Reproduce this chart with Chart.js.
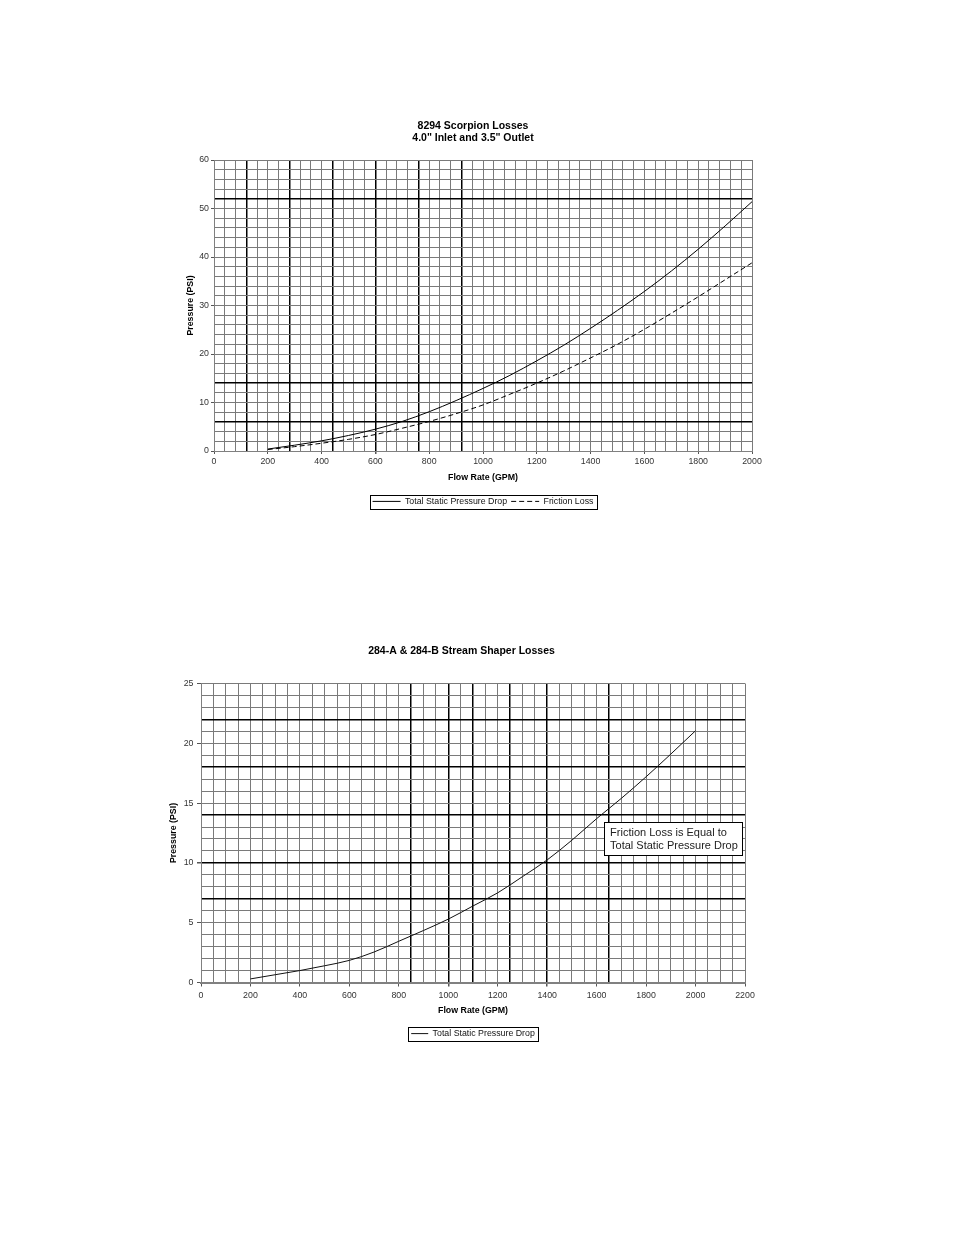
<!DOCTYPE html>
<html>
<head>
<meta charset="utf-8">
<title>Scorpion and Stream Shaper Losses</title>
<script src="https://cdn.jsdelivr.net/npm/chart.js@4.4.1/dist/chart.umd.min.js"></script>
<style>
    html, body { margin: 0; padding: 0; background: #fff; }
    body { width: 954px; height: 1235px; position: relative; overflow: hidden; }
    canvas { position: absolute; }
    #scorpionChart { left: 150px; top: 100px; }
    #shaperChart { left: 140px; top: 620px; }
</style>
</head>
<body>
<canvas id="scorpionChart" width="620" height="420"></canvas>
<canvas id="shaperChart" width="624" height="430"></canvas>
<script>
// 8294 Scorpion
const scorpionFlow = [200, 300, 400, 500, 600, 700, 800, 900, 1000, 1100, 1200, 1300, 1400, 1500, 1600, 1700, 1800, 1900, 2000];
const scorpionTotal = [0.4, 1.2, 2.1, 3.2, 4.5, 6.1, 8.1, 10.4, 12.9, 15.6, 18.6, 21.8, 25.3, 29.0, 32.9, 37.1, 41.6, 46.4, 51.4];
const scorpionFriction = [0.3, 0.9, 1.6, 2.4, 3.4, 4.7, 6.1, 7.7, 9.5, 11.7, 14.0, 16.5, 19.2, 22.0, 25.1, 28.4, 31.8, 35.3, 38.8];
const scorpionXLabels = [0, 200, 400, 600, 800, 1000, 1200, 1400, 1600, 1800, 2000];
const scorpionYLabels = [0, 10, 20, 30, 40, 50, 60];

// 284-A & 284-B Stream Shaper
const shaperFlow = [200, 300, 400, 500, 600, 700, 800, 900, 1000, 1100, 1200, 1300, 1400, 1500, 1600, 1700, 1800, 1900, 2000];
const shaperTotal = [0.3, 0.65, 1.0, 1.4, 1.85, 2.55, 3.45, 4.35, 5.3, 6.4, 7.5, 8.85, 10.25, 11.9, 13.7, 15.4, 17.2, 19.1, 21.05];
const shaperXLabels = [0, 200, 400, 600, 800, 1000, 1200, 1400, 1600, 1800, 2000, 2200];
const shaperYLabels = [0, 5, 10, 15, 20, 25];

// papier quadrillé : lignes fines et lignes épaisses
const scorpionThickX = [120, 280, 440, 600, 760, 920];
const scorpionThickY = [6, 14, 52];
const shaperThickX = [850, 1000, 1100, 1250, 1400, 1650];
const shaperThickY = [7, 10, 14, 18, 22];

const shaperNote = ['Friction Loss is Equal to', 'Total Static Pressure Drop'];

Chart.defaults.font.family = "'Liberation Sans', Arial, sans-serif";
Chart.defaults.color = '#333';

function gridSteps(max, step) {
    const out = [];
    for (let v = 0; v <= max; v += step) out.push(v);
    return out;
}

function points(xs, ys) {
    return xs.map((x, i) => ({ x: x, y: ys[i] }));
}

// cadre autour de la légende
const legendFrame = {
    id: 'legendFrame',
    afterDraw(chart) {
        const boxes = chart.legend && chart.legend.legendHitBoxes;
        if (!boxes || !boxes.length) return;
        const ctx = chart.ctx;
        const left = Math.min(...boxes.map(b => b.left)) - 3;
        const right = Math.max(...boxes.map(b => b.left + b.width)) + 3;
        const top = boxes[0].top - 2.5;
        ctx.save();
        ctx.strokeStyle = '#000';
        ctx.lineWidth = 1;
        ctx.strokeRect(Math.round(left) + 0.5, Math.round(top) + 0.5, Math.round(right - left), Math.round(boxes[0].height + 5));
        ctx.restore();
    }
};

// encadré de texte du second graphique
const noteBox = {
    id: 'noteBox',
    afterDatasetsDraw(chart, args, opts) {
        if (!opts.lines) return;
        const { ctx, scales: { x, y } } = chart;
        const left = x.getPixelForValue(opts.x0);
        const right = x.getPixelForValue(opts.x1);
        const top = y.getPixelForValue(opts.y0);
        const bottom = y.getPixelForValue(opts.y1);
        ctx.save();
        ctx.fillStyle = '#fff';
        ctx.fillRect(left, top, right - left, bottom - top);
        ctx.strokeStyle = '#000';
        ctx.lineWidth = 1;
        ctx.strokeRect(Math.round(left) + 0.5, Math.round(top) + 0.5, Math.round(right - left), Math.round(bottom - top));
        ctx.fillStyle = '#222';
        ctx.font = "11px 'Liberation Sans', Arial, sans-serif";
        ctx.textBaseline = 'middle';
        opts.lines.forEach((line, i) => ctx.fillText(line, left + 6, top + 11 + i * 12.5));
        ctx.restore();
    }
};

function xAxis(max, step, labels, thick, fit) {
    return {
        type: 'linear',
        min: 0,
        max: max,
        afterBuildTicks: s => { s.ticks = gridSteps(max, step).map(v => ({ value: v })); },
        afterFit: s => { s.height = fit.height; },
        ticks: {
            autoSkip: false,
            maxRotation: 0,
            padding: fit.padding,
            color: '#333',
            font: { size: 8.8 },
            callback: v => labels.includes(v) ? String(v) : ''
        },
        grid: {
            color: c => c.tick && thick.includes(c.tick.value) ? '#000' : '#7a7a7a',
            lineWidth: c => c.tick && thick.includes(c.tick.value) ? 1.5 : 1,
            tickLength: fit.tickLength,
            tickColor: c => c.tick && labels.includes(c.tick.value) ? '#555' : 'rgba(0,0,0,0)'
        },
        border: { color: '#808080', width: fit.border },
        title: {
            display: true,
            text: 'Flow Rate (GPM)',
            color: '#000',
            font: { size: 8.8, weight: 'bold' },
            padding: { top: 0, bottom: fit.titlePad }
        }
    };
}

function yAxis(max, step, labels, thick, fit) {
    return {
        type: 'linear',
        min: 0,
        max: max,
        afterBuildTicks: s => { s.ticks = gridSteps(max, step).map(v => ({ value: v })); },
        afterFit: s => { s.width = fit.width; },
        ticks: {
            autoSkip: false,
            padding: fit.padding,
            color: '#333',
            font: { size: 8.8 },
            callback: v => labels.includes(v) ? String(v) : ''
        },
        grid: {
            color: c => c.tick && thick.includes(c.tick.value) ? '#000' : '#7a7a7a',
            lineWidth: c => c.tick && thick.includes(c.tick.value) ? 1.5 : 1,
            tickLength: fit.tickLength,
            tickColor: c => c.tick && labels.includes(c.tick.value) ? '#555' : 'rgba(0,0,0,0)'
        },
        border: { color: '#808080' },
        title: {
            display: true,
            text: 'Pressure (PSI)',
            color: '#000',
            font: { size: 8.8, weight: 'bold' },
            padding: { top: 4.9, bottom: 0 }
        }
    };
}

// axe vide à droite : décale la zone du graphique sans déplacer le titre
function spacer(width) {
    return {
        type: 'linear',
        position: 'right',
        display: true,
        grid: { display: false, drawTicks: false },
        ticks: { display: false },
        border: { display: false },
        afterFit: s => { s.width = width; }
    };
}

// échantillon en trait (plein ou pointillé) comme dans la légende d'origine
function lineLabels(chart) {
    const base = Chart.defaults.plugins.legend.labels.generateLabels(chart);
    return base.map(item => {
        const ds = chart.data.datasets[item.datasetIndex];
        item.lineDash = ds.borderDash || [];
        item.strokeStyle = ds.borderColor;
        item.lineWidth = ds.borderWidth;
        item.pointStyle = 'line';
        return item;
    });
}

function legendOptions(sampleWidth) {
    return {
        position: 'bottom',
        fullSize: false,
        labels: {
            usePointStyle: true,
            pointStyle: 'line',
            pointStyleWidth: sampleWidth,
            padding: 4,
            color: '#111',
            font: { size: 8.8 },
            generateLabels: lineLabels
        }
    };
}

new Chart(document.getElementById('scorpionChart'), {
    type: 'line',
    data: {
        datasets: [{
            label: 'Total Static Pressure Drop',
            data: points(scorpionFlow, scorpionTotal),
            borderColor: '#000',
            borderWidth: 1,
            pointRadius: 0,
            cubicInterpolationMode: 'monotone'
        }, {
            label: 'Friction Loss',
            data: points(scorpionFlow, scorpionFriction),
            borderColor: '#000',
            borderWidth: 1,
            borderDash: [5, 3],
            pointRadius: 0,
            cubicInterpolationMode: 'monotone'
        }]
    },
    options: {
        responsive: false,
        animation: false,
        layout: { padding: { left: 30, right: 4, top: 0, bottom: 4.2 } },
        plugins: {
            title: {
                display: true,
                text: ['8294 Scorpion Losses', '4.0" Inlet and 3.5" Outlet'],
                color: '#000',
                font: { size: 10.5, weight: 'bold' },
                padding: { top: 19.7, bottom: 15.1 }
            },
            legend: legendOptions(28),
            tooltip: { enabled: false }
        },
        scales: {
            x: xAxis(2000, 40, scorpionXLabels, scorpionThickX, { height: 42, padding: 2, tickLength: 3, border: 1, titlePad: 9.9 }),
            y: yAxis(60, 2, scorpionYLabels, scorpionThickY, { width: 34, padding: 2, tickLength: 3 }),
            pad: spacer(14)
        }
    },
    plugins: [legendFrame]
});

new Chart(document.getElementById('shaperChart'), {
    type: 'line',
    data: {
        datasets: [{
            label: 'Total Static Pressure Drop',
            data: points(shaperFlow, shaperTotal),
            borderColor: '#111',
            borderWidth: 1,
            pointRadius: 0,
            cubicInterpolationMode: 'monotone'
        }]
    },
    options: {
        responsive: false,
        animation: false,
        layout: { padding: { left: 23.6, right: 4.6, top: 0, bottom: 2 } },
        plugins: {
            title: {
                display: true,
                text: '284-A & 284-B Stream Shaper Losses',
                color: '#000',
                font: { size: 10.5, weight: 'bold' },
                padding: { top: 24.7, bottom: 26.2 }
            },
            legend: legendOptions(17),
            tooltip: { enabled: false },
            noteBox: { lines: shaperNote, x0: 1630, x1: 2190, y0: 13.4, y1: 10.6 }
        },
        scales: {
            x: xAxis(2200, 50, shaperXLabels, shaperThickX, { height: 42.7, padding: 3.5, tickLength: 4, border: 2, titlePad: 9.1 }),
            y: yAxis(25, 1, shaperYLabels, shaperThickY, { width: 37.4, padding: 3.5, tickLength: 4 }),
            pad: spacer(14.4)
        }
    },
    plugins: [legendFrame, noteBox]
});
</script>
</body>
</html>
